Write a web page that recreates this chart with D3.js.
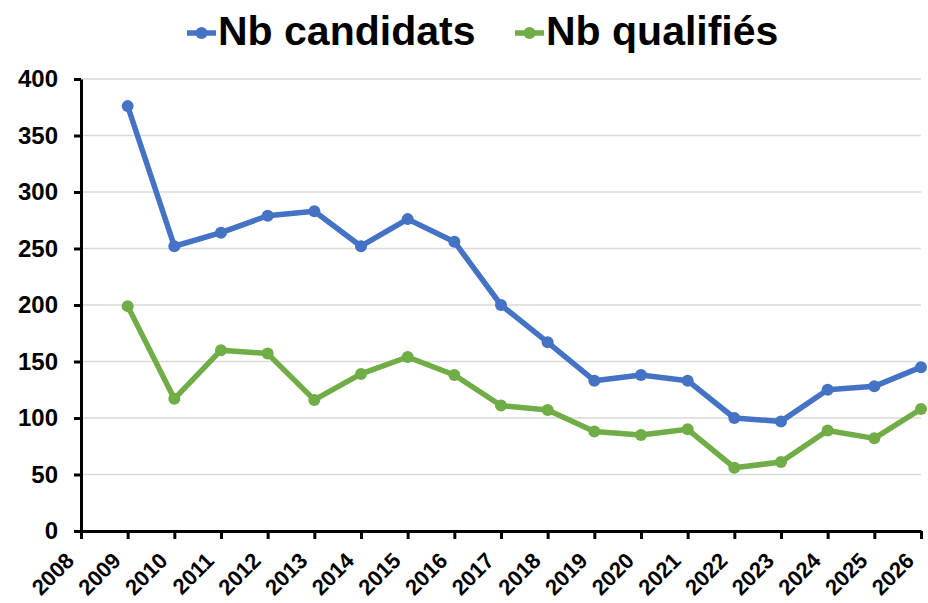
<!DOCTYPE html>
<html>
<head>
<meta charset="utf-8">
<script src="https://cdn.jsdelivr.net/npm/d3@7"></script>
<style>
  body { margin: 0; background: #fff; }
  svg { display: block; font-family: "Liberation Sans", Arial, sans-serif; }
</style>
</head>
<body>
<svg id="chart" width="928" height="603"></svg>
<script>
// data
const years = [2009, 2010, 2011, 2012, 2013, 2014, 2015, 2016, 2017, 2018, 2019, 2020, 2021, 2022, 2023, 2024, 2025, 2026];
const candidats = [376, 252, 264, 279, 283, 252, 276, 256, 200, 167, 133, 138, 133, 100, 97, 125, 128, 145];
const qualifies = [199, 117, 160, 157, 116, 139, 154, 138, 111, 107, 88, 85, 90, 56, 61, 89, 82, 108];
const xTicks = d3.range(2008, 2027);
const yTicks = [0, 50, 100, 150, 200, 250, 300, 350, 400];
const seriesNames = ["Nb candidats", "Nb qualifiés"];
const colors = ["#4472C4", "#70AD47"];

var margin = { top: 79, right: 7, bottom: 72, left: 81 },
  width = 928 - margin.left - margin.right,
  height = 603 - margin.top - margin.bottom;

let svg = d3.select("svg#chart");
let g = svg.append("g").attr("transform", "translate(" + margin.left + "," + margin.top + ")");

let xScale = d3.scaleLinear().domain([2008, 2026]).range([0, width]);
let yScale = d3.scaleLinear().domain([0, 400]).range([height, 0]);

// gridlines
g.selectAll("line.grid")
  .data(yTicks.filter(d => d > 0))
  .enter().append("line")
  .attr("class", "grid")
  .attr("x1", 0).attr("x2", width)
  .attr("y1", d => yScale(d)).attr("y2", d => yScale(d))
  .style("stroke", "#d9d9d9")
  .style("stroke-width", 1.5);

// series
const series = [candidats, qualifies];
let line = d3.line().x((d, i) => xScale(years[i])).y(d => yScale(d));
series.forEach((vals, k) => {
  g.append("path")
    .datum(vals)
    .attr("d", line)
    .style("fill", "none")
    .style("stroke", colors[k])
    .style("stroke-width", 5.5)
    .style("stroke-linejoin", "round");
  g.selectAll("circle.s" + k)
    .data(vals)
    .enter().append("circle")
    .attr("class", "s" + k)
    .attr("cx", (d, i) => xScale(years[i]))
    .attr("cy", d => yScale(d))
    .attr("r", 6)
    .style("fill", colors[k]);
});

// axes
let yAxis = g.append("g")
  .call(d3.axisLeft(yScale).tickValues(yTicks).tickSize(7).tickSizeOuter(0).tickPadding(16));
let xAxis = g.append("g")
  .attr("transform", "translate(0," + height + ")")
  .call(d3.axisBottom(xScale).tickValues(xTicks).tickFormat(d3.format("d")).tickSize(8).tickSizeOuter(0));

[xAxis, yAxis].forEach(a => {
  a.select(".domain").style("stroke", "#000").style("stroke-width", 3);
  a.selectAll(".tick line").style("stroke", "#000").style("stroke-width", 3);
  a.selectAll("text")
    .style("font-family", "'Liberation Sans', Arial, sans-serif")
    .style("font-weight", "bold")
    .style("font-size", "24px")
    .style("fill", "#000");
});

xAxis.selectAll("text")
  .style("font-size", "22px")
  .style("text-anchor", "end")
  .attr("dx", "0")
  .attr("dy", "0")
  .attr("y", 0)
  .attr("transform", "translate(-6,31) rotate(-45)");

// legend
const legendPos = [187, 515];
seriesNames.forEach((name, k) => {
  let lg = svg.append("g").attr("transform", "translate(" + legendPos[k] + ",33)");
  lg.append("line").attr("x1", 0).attr("x2", 29).attr("y1", 0).attr("y2", 0)
    .style("stroke", colors[k]).style("stroke-width", 5.5);
  lg.append("circle").attr("cx", 14.5).attr("cy", 0).attr("r", 6).style("fill", colors[k]);
  lg.append("text").attr("x", 31).attr("y", 12)
    .style("font-weight", "bold").style("font-size", "41px").style("fill", "#000")
    .text(name);
});
</script>
</body>
</html>
